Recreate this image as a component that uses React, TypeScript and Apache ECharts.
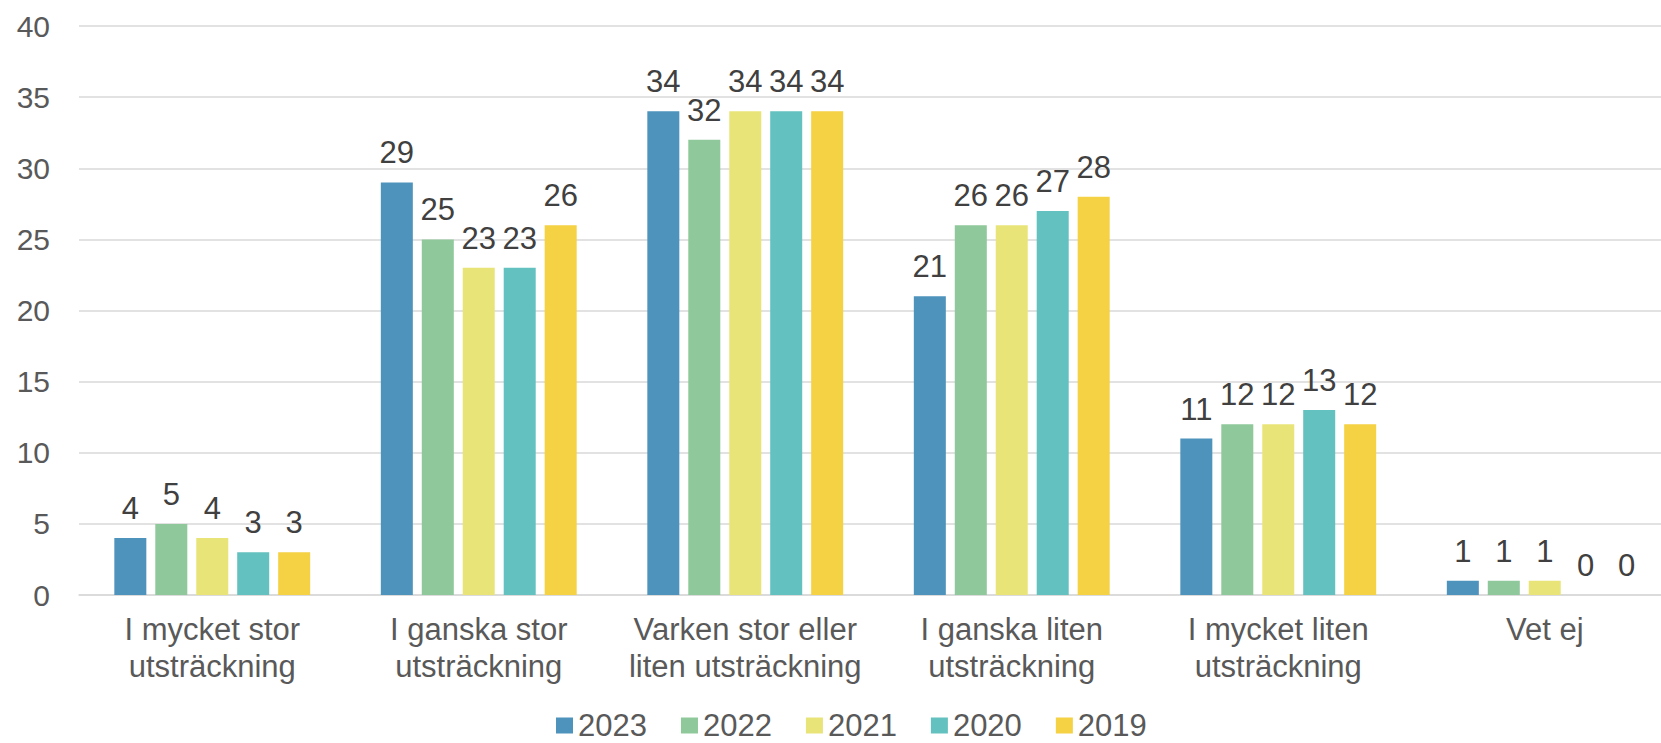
import React, { useEffect, useRef } from "react";
import * as echarts from "echarts";

const categories = [
  "I mycket stor\nutsträckning",
  "I ganska stor\nutsträckning",
  "Varken stor eller\nliten utsträckning",
  "I ganska liten\nutsträckning",
  "I mycket liten\nutsträckning",
  "Vet ej",
];
const seriesNames = ["2023", "2022", "2021", "2020", "2019"];
const v2023 = [4, 29, 34, 21, 11, 1];
const v2022 = [5, 25, 32, 26, 12, 1];
const v2021 = [4, 23, 34, 26, 12, 1];
const v2020 = [3, 23, 34, 27, 13, 0];
const v2019 = [3, 26, 34, 28, 12, 0];
const seriesValues = [v2023, v2022, v2021, v2020, v2019];
const colors = ["#4e93bc", "#8fc89a", "#e8e478", "#63c1bf", "#f5d144"];

const FONT = "'Liberation Sans', Arial, sans-serif";

export default function App() {
  const ref = useRef<HTMLDivElement>(null);
  useEffect(() => {
    if (!ref.current) return;
    const chart = echarts.init(ref.current, undefined, { renderer: "svg" });
    chart.setOption({
      animation: false,
      textStyle: { fontFamily: FONT },
      grid: {
        left: 79,
        width: 1599,
        top: 26,
        bottom: 148,
        containLabel: false,
        outerBoundsMode: "none",
      },
      legend: {
        data: seriesNames,
        left: 551,
        top: 705,
        padding: 5,
        itemWidth: 17,
        itemHeight: 16,
        itemGap: 34,
        icon: "rect",
        textStyle: { fontFamily: FONT, fontSize: 31, color: "#595959", lineHeight: 31 },
      },
      xAxis: {
        type: "category",
        data: categories,
        axisLine: { show: true, lineStyle: { color: "#d9d9d9", width: 1.5 } },
        axisTick: { show: false },
        axisLabel: {
          fontFamily: FONT,
          fontSize: 31,
          color: "#595959",
          lineHeight: 37,
          margin: 16,
          interval: 0,
        },
      },
      yAxis: {
        type: "value",
        min: 0,
        max: 40,
        interval: 5,
        axisLine: { show: false },
        axisTick: { show: false },
        splitLine: { lineStyle: { color: "#d9d9d9", width: 1.5 } },
        axisLabel: { fontFamily: FONT, fontSize: 30, color: "#595959", margin: 29 },
      },
      series: seriesNames.map((name, i) => ({
        name,
        type: "bar",
        data: seriesValues[i],
        barWidth: 32,
        barGap: "28%",
        itemStyle: { color: colors[i] },
        label: {
          show: true,
          position: "top",
          distance: 14,
          fontFamily: FONT,
          fontSize: 31,
          color: "#404040",
        },
      })),
    });
    return () => chart.dispose();
  }, []);
  return (
    <div
      ref={ref}
      style={{ position: "fixed", left: 0, top: 0, width: 1661, height: 743, background: "#fff" }}
    />
  );
}
